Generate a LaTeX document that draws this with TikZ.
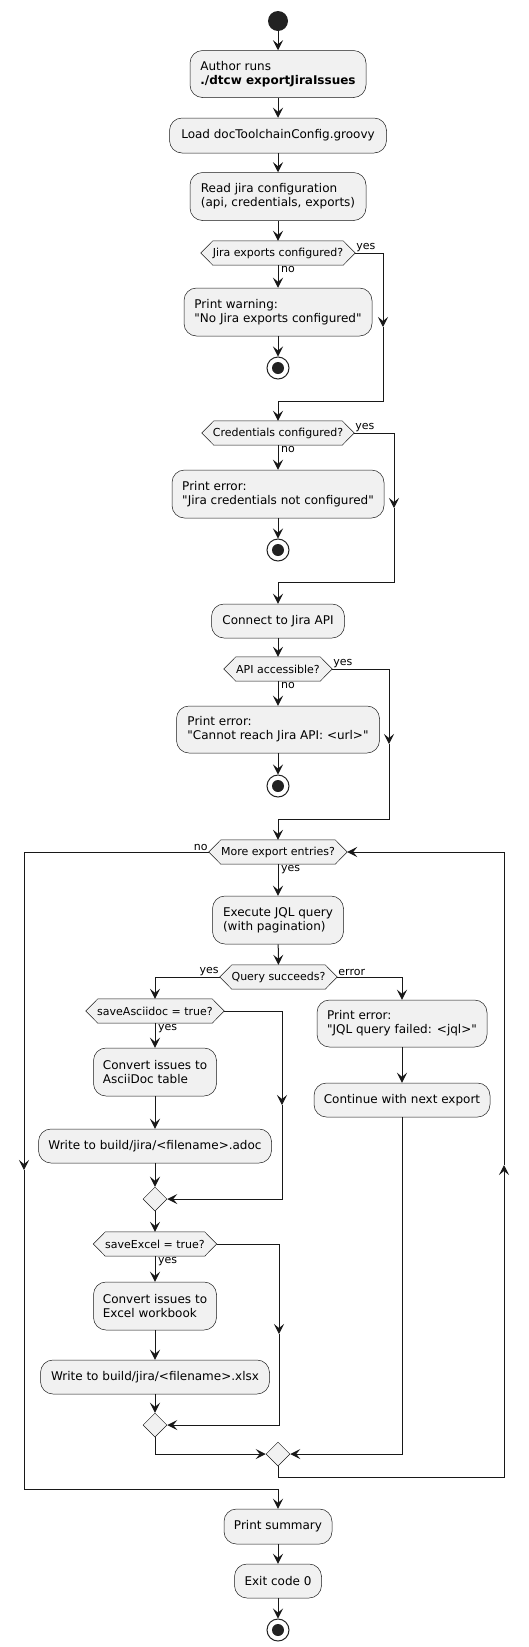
\documentclass[tikz,border=0pt]{standalone}
\usepackage{fontspec}
\setmainfont{DejaVu Sans}[Ligatures=TeXOff]
\usetikzlibrary{arrows.meta,shapes.geometric,calc}
\definecolor{fillc}{HTML}{F1F1F1}
\definecolor{linec}{HTML}{181818}
\definecolor{dotc}{HTML}{222222}
\pgfdeclarelayer{bg}
\pgfsetlayers{bg,main}
\tikzset{
 act/.style={draw=linec, fill=fillc, line width=0.5pt, rounded corners=12.5pt, align=left, font=\fontsize{12}{14}\selectfont, inner sep=0pt},
 dia/.style={font=\fontsize{11}{13}\selectfont, inner sep=0pt, minimum height=24pt},
 hexfill/.style={draw=linec, fill=fillc, line width=0.5pt},
 merge/.style={diamond, draw=linec, fill=fillc, line width=0.5pt, minimum width=24pt, minimum height=24pt, inner sep=0pt},
 startdot/.style={circle, fill=dotc, minimum size=20pt, inner sep=0pt},
 stopdot/.style={circle, draw=dotc, fill=white, line width=1pt, minimum size=22pt, inner sep=0pt, path picture={\fill[dotc] (path picture bounding box.center) circle (6pt);}},
 flow/.style={draw=linec, line width=1pt, -{Stealth[length=10pt,width=10pt,inset=4pt]}},
 plain/.style={draw=linec, line width=1pt},
 lbl/.style={font=\fontsize{11}{13}\selectfont, inner sep=1pt},
}
\newcommand{\hexa}[1]{\begin{pgfonlayer}{bg}\filldraw[hexfill] (#1.west) -- ([xshift=12pt]#1.north west) -- ([xshift=-12pt]#1.north east) -- (#1.east) -- ([xshift=-12pt]#1.south east) -- ([xshift=12pt]#1.south west) -- cycle;\end{pgfonlayer}}
\newcommand{\qq}{\char34\relax}
\begin{document}
\begin{tikzpicture}[x=1pt,y=-1pt]
\useasboundingbox (0,0) rectangle (529,1647);
% nodes
\node[startdot] (start) at (278,21) {};
\node[act, minimum width=176pt, minimum height=47pt] (b1) at (278,74) {Author runs\\\textbf{./dtcw exportJiraIssues}};
\node[act, minimum width=217pt, minimum height=35pt] (b2) at (278,135.5) {Load docToolchainConfig.groovy};
\node[act, minimum width=176pt, minimum height=48pt] (b3) at (278,196.5) {Read jira configuration\\(api, credentials, exports)};
\node[dia, minimum width=154pt] (d1) at (278,253) {Jira exports configured?};
\node[act, minimum width=188pt, minimum height=48pt] (warn) at (278,312) {Print warning:\\\qq No Jira exports configured\qq};
\node[stopdot] (stop1) at (278,368) {};
\node[dia, minimum width=152pt] (d2) at (278,433) {Credentials configured?};
\node[act, minimum width=212pt, minimum height=48pt] (err1) at (278,494) {Print error:\\\qq Jira credentials not configured\qq};
\node[stopdot] (stop2) at (278,550) {};
\node[act, minimum width=133pt, minimum height=34pt] (conn) at (278,621) {Connect to Jira API};
\node[dia, minimum width=108pt] (d3) at (278,669) {API accessible?};
\node[act, minimum width=203pt, minimum height=47pt] (err2) at (278,729.5) {Print error:\\\qq Cannot reach Jira API: <url>\qq};
\node[stopdot] (stop3) at (278,786) {};
\node[dia, minimum width=138pt] (d4) at (278,852) {More export entries?};
\node[act, minimum width=131pt, minimum height=48pt] (exec) at (278,920) {Execute JQL query\\(with pagination)};
\node[dia, minimum width=117pt] (d5) at (278.5,977) {Query succeeds?};
\node[dia, minimum width=138pt] (dA) at (155,1011) {saveAsciidoc = true?};
\node[act, minimum width=123pt, minimum height=48pt] (convA) at (155,1072) {Convert issues to\\AsciiDoc table};
\node[act, minimum width=233pt, minimum height=34pt] (writeA) at (155,1146) {Write to build/jira/<filename>.adoc};
\node[merge] (mergeA) at (155,1199) {};
\node[dia, minimum width=123pt] (dE) at (155,1244) {saveExcel = true?};
\node[act, minimum width=123pt, minimum height=48pt] (convE) at (155,1306) {Convert issues to\\Excel workbook};
\node[act, minimum width=229pt, minimum height=34pt] (writeE) at (155,1377) {Write to build/jira/<filename>.xlsx};
\node[merge] (mergeE) at (155,1425) {};
\node[act, minimum width=170pt, minimum height=47pt] (err3) at (402,1023.5) {Print error:\\\qq JQL query failed: <jql>\qq};
\node[act, minimum width=176pt, minimum height=34pt] (cont) at (402,1100) {Continue with next export};
\node[merge] (mergeM) at (278,1454) {};
\node[act, minimum width=108pt, minimum height=35pt] (summ) at (278,1526.5) {Print summary};
\node[act, minimum width=87pt, minimum height=34pt] (exit) at (278,1581) {Exit code 0};
\node[stopdot] (stop4) at (278,1630) {};
\hexa{d1}\hexa{d2}\hexa{d3}\hexa{d4}\hexa{d5}\hexa{dA}\hexa{dE}
% labels
\node[lbl, anchor=south west] (l1y) at (d1.east) {yes};
\node[lbl, anchor=north west] (l1n) at ([xshift=2pt]d1.south) {no};
\node[lbl, anchor=south west] (l2y) at (d2.east) {yes};
\node[lbl, anchor=north west] (l2n) at ([xshift=2pt]d2.south) {no};
\node[lbl, anchor=south west] (l3y) at (d3.east) {yes};
\node[lbl, anchor=north west] (l3n) at ([xshift=2pt]d3.south) {no};
\node[lbl, anchor=south east] (l4n) at (d4.west) {no};
\node[lbl, anchor=north west] (l4y) at ([xshift=2pt]d4.south) {yes};
\node[lbl, anchor=south east] (l5y) at (d5.west) {yes};
\node[lbl, anchor=south west] (l5e) at (d5.east) {error};
\node[lbl, anchor=north west] (lAy) at ([xshift=2pt]dA.south) {yes};
\node[lbl, anchor=north west] (lEy) at ([xshift=2pt]dE.south) {yes};
% coordinates
\coordinate (m1) at (383,327);
\coordinate (j1) at (278,401);
\coordinate (m2) at (394,508);
\coordinate (j2) at (278,582);
\coordinate (m3) at (389,744);
\coordinate (j3) at (278,819);
\coordinate (aMid) at (282,1105);
\coordinate (eMid) at (279,1334);
\coordinate (mb) at (278,1477);
\coordinate (rMid) at (504,1165);
\coordinate (lMid) at (24,1170);
\coordinate (jb) at (278,1489);
% connectors
\draw[flow] (start) -- (b1);
\draw[flow] (b1) -- (b2);
\draw[flow] (b2) -- (b3);
\draw[flow] (b3) -- (d1);
\draw[flow] (d1) -- (warn);
\draw[flow] (warn) -- (stop1);
\draw[flow] (d1.east) -| (m1);
\draw[flow] (m1) |- (j1) -- (d2.north);
\draw[flow] (d2) -- (err1);
\draw[flow] (err1) -- (stop2);
\draw[flow] (d2.east) -| (m2);
\draw[flow] (m2) |- (j2) -- (conn.north);
\draw[flow] (conn) -- (d3);
\draw[flow] (d3) -- (err2);
\draw[flow] (err2) -- (stop3);
\draw[flow] (d3.east) -| (m3);
\draw[flow] (m3) |- (j3) -- (d4.north);
\draw[flow] (d4) -- (exec);
\draw[flow] (exec) -- (d5);
\draw[flow] (d5.west) -| (dA.north);
\draw[flow] (d5.east) -| (err3.north);
\draw[flow] (dA) -- (convA);
\draw[flow] (convA) -- (writeA);
\draw[flow] (writeA) -- (mergeA);
\draw[flow] (dA.east) -| (aMid);
\draw[flow] (aMid) |- (mergeA.east);
\draw[flow] (mergeA) -- (dE);
\draw[flow] (dE) -- (convE);
\draw[flow] (convE) -- (writeE);
\draw[flow] (writeE) -- (mergeE);
\draw[flow] (dE.east) -| (eMid);
\draw[flow] (eMid) |- (mergeE.east);
\draw[flow] (mergeE.south) |- (mergeM.west);
\draw[flow] (err3) -- (cont);
\draw[flow] (cont.south) |- (mergeM.east);
\draw[flow] (mergeM.south) -- (mb) -| (rMid);
\draw[flow] (rMid) |- (d4.east);
\draw[flow] (d4.west) -| (lMid);
\draw[flow] (lMid) |- (jb) -- (summ.north);
\draw[flow] (summ) -- (exit);
\draw[flow] (exit) -- (stop4);
\end{tikzpicture}
\end{document}
